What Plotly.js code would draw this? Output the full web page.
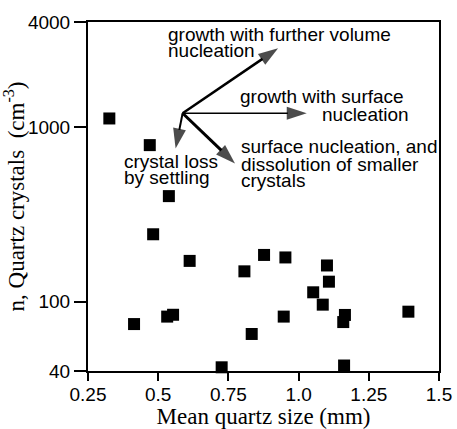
<!DOCTYPE html>
<html>
<head>
<meta charset="utf-8">
<script src="https://cdn.plot.ly/plotly-3.0.1.min.js"></script>
<style>html,body{margin:0;padding:0;background:#fff;}#chart{width:457px;height:429px;}</style>
</head>
<body>
<div id="chart"></div>
<script>
// Mean quartz size (mm)
var sizeMM = [0.326, 0.470, 0.538, 0.482, 0.612, 0.414, 0.532, 0.553, 0.726, 0.877, 0.953,
              0.807, 1.101, 1.108, 1.052, 1.086, 0.947, 1.165, 1.159, 1.391, 0.833, 1.162];
// n, quartz crystals (cm^-3)
var nCrystals = [1120, 788, 402, 243, 171, 74.3, 82, 84, 42, 185, 179,
                 149, 161, 130, 113, 96, 82, 83.8, 76.3, 87.5, 65.2, 43];

var xTickVals = [0.25, 0.5, 0.75, 1.0, 1.25, 1.5];
var xTickText = ['0.25', '0.5', '0.75', '1.0', '1.25', '1.5'];
var yTickVals = [40, 100, 1000, 4000];
var yTickText = ['40', '100', '1000', '4000'];

// Process-arrow diagram (tail shared, one head per process)
var arrowTail = [0.587, 1200];
var arrowHeadX = [0.927, 1.029, 0.7735, 0.562];
var arrowHeadY = [2830, 1200, 618, 754];
var arrowWidths = [2.5, 1.5, 3, 2];

var traces = [{
  type: 'scatter', mode: 'markers',
  x: sizeMM, y: nCrystals,
  cliponaxis: false,
  marker: {symbol: 'square', size: 12, color: '#000', line: {width: 0}},
  hoverinfo: 'x+y', showlegend: false
}];

for (var i = 0; i < arrowHeadX.length; i++) {
  traces.push({
    type: 'scatter', mode: 'lines+markers',
    x: [arrowTail[0], arrowHeadX[i]],
    y: [arrowTail[1], arrowHeadY[i]],
    line: {color: '#000', width: arrowWidths[i]},
    marker: {symbol: 'arrow', size: [0, 21], color: '#000', angleref: 'previous', line: {width: 0}},
    cliponaxis: false, hoverinfo: 'skip', showlegend: false
  });
}

var sans = 'Liberation Sans, Arial, Helvetica, sans-serif';
var serif = 'Liberation Serif, Times New Roman, serif';

var labelLines = [
  ['growth with further volume', 0.226, 0.963],
  ['nucleation', 0.226, 0.917],
  ['growth with surface', 0.431, 0.786],
  ['nucleation', 0.663, 0.735],
  ['surface nucleation, and', 0.433, 0.642],
  ['dissolution of smaller', 0.433, 0.593],
  ['crystals', 0.433, 0.547],
  ['crystal loss', 0.101, 0.599],
  ['by settling', 0.101, 0.554]
];
var annotations = labelLines.map(function (l) {
  return {
    text: l[0], xref: 'paper', yref: 'paper', x: l[1], y: l[2],
    xanchor: 'left', yanchor: 'middle', showarrow: false,
    borderpad: 0, font: {family: sans, size: 19, color: '#000'}
  };
});

var layout = {
  width: 457, height: 429,
  margin: {l: 88, r: 18, t: 22, b: 58},
  paper_bgcolor: '#fff', plot_bgcolor: '#fff',
  showlegend: false,
  xaxis: {
    range: [0.25, 1.5], tickmode: 'array', tickvals: xTickVals, ticktext: xTickText,
    ticks: 'outside', ticklen: 8, tickwidth: 2, tickcolor: '#000', ticklabelstandoff: -3,
    showline: true, linecolor: '#000', linewidth: 2, mirror: true,
    showgrid: false, zeroline: false,
    tickfont: {family: sans, size: 19, color: '#000'},
    title: {text: 'Mean quartz size (mm)', font: {family: serif, size: 23, color: '#000'}, standoff: 9}
  },
  yaxis: {
    type: 'log', range: [Math.log10(40), Math.log10(4000)],
    tickmode: 'array', tickvals: yTickVals, ticktext: yTickText,
    ticks: 'outside', ticklen: 12, tickwidth: 2, tickcolor: '#000',
    showline: true, linecolor: '#000', linewidth: 2, mirror: true,
    showgrid: false, zeroline: false,
    tickfont: {family: sans, size: 19, color: '#000'},
    title: {text: 'n, Quartz crystals  (cm<sup>-3</sup>)', font: {family: serif, size: 23, color: '#000'}, standoff: 4}
  },
  annotations: annotations
};

Plotly.newPlot('chart', traces, layout, {staticPlot: true, displayModeBar: false});
</script>
</body>
</html>
